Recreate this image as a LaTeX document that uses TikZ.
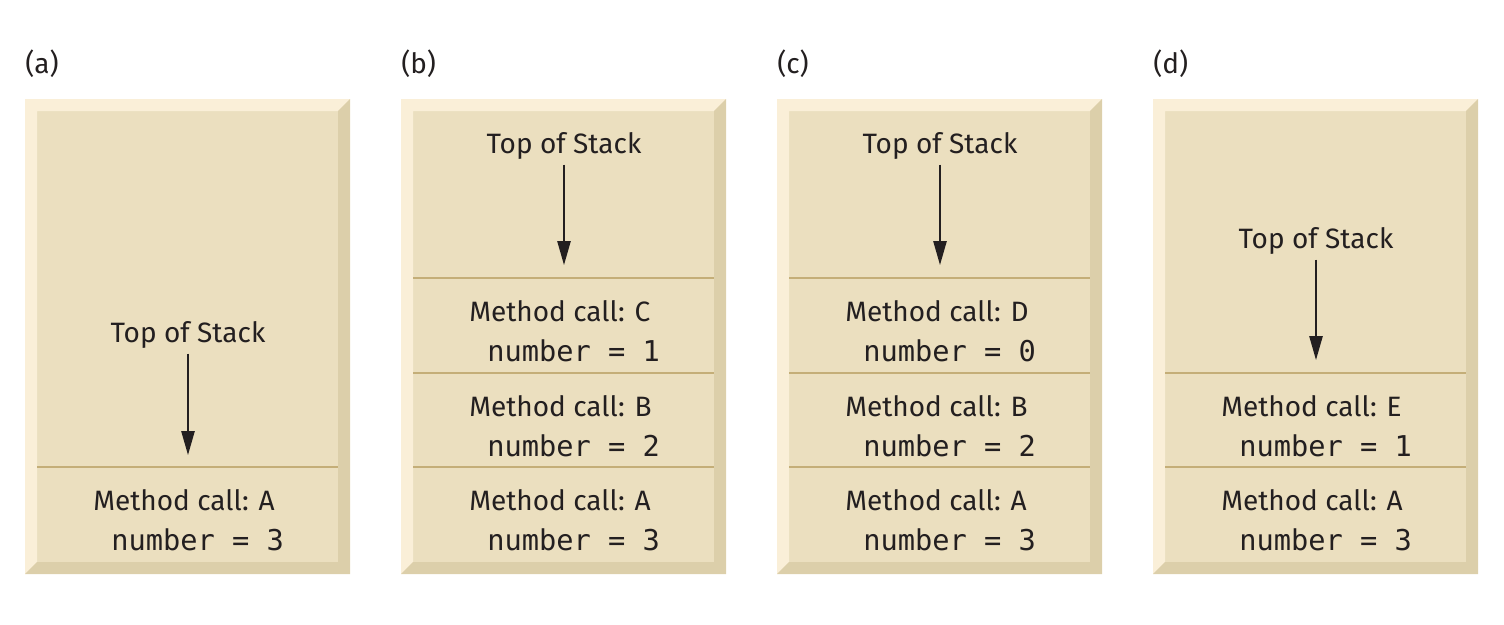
\documentclass[tikz,border=0pt]{standalone}
\usepackage{fontspec}
\setmainfont{Fira Sans}
\setmonofont{DejaVu Sans Mono}
\usetikzlibrary{arrows.meta}
\definecolor{face}{RGB}{235,223,191}
\definecolor{lite}{RGB}{250,239,216}
\definecolor{dark}{RGB}{220,207,170}
\definecolor{rule}{RGB}{196,174,120}
\definecolor{ink}{RGB}{35,31,32}
\def\stackbox(#1){
	\fill[face] (#1,99) rectangle (#1+325,574);
	\fill[lite] (#1,99) -- (#1+325,99) -- (#1+313,111) -- (#1+12,111) -- (#1+12,562) -- (#1,574) -- cycle;
	\fill[dark] (#1+325,99) -- (#1+325,574) -- (#1,574) -- (#1+12,562) -- (#1+313,562) -- (#1+313,111) -- cycle;
}
\def\rowline(#1,#2){\draw[sep] (#1+12,#2) -- (#1+313,#2);}
\tikzset{
	tag/.style={anchor=base west, inner sep=0pt, text=ink, font=\fontsize{21}{21}\selectfont},
	call/.style={anchor=base west, inner sep=0pt, text=ink, font=\fontsize{21}{21}\selectfont},
	num/.style={anchor=base west, inner sep=0pt, text=ink, font=\ttfamily\fontsize{21.5}{22}\selectfont},
	tos/.style={anchor=base, inner sep=0pt, text=ink, font=\fontsize{21}{21}\selectfont},
	sep/.style={line width=2pt, draw=rule},
	ptr/.style={draw=ink, line width=1.2pt, shorten <=4pt, -{Triangle[length=18pt,width=10pt]}}
}
\begin{document}
\begin{tikzpicture}[x=0.75pt,y=-0.75pt]
	\useasboundingbox (0,0) rectangle (1504,625);
	%%%%% panels %%%%%
	\foreach \x/\l in {25/a,401/b,777/c,1153/d}{
		\stackbox(\x)
		\node[tag] (lbl\l) at (\x,73) {(\l)};
	}
	
	%% (a)
	\rowline(25,467)
	\node[tos] (tosa) at (188,342) {Top of Stack};
	\coordinate (hda) at (188,455);
	\draw[ptr] (tosa) -- (hda);
	\node[call] (ma1) at (93,510) {Method call: A};
	\node[num] (na1) at (111,550) {number = 3};
	
	%% (b)
	\rowline(401,278)
	\rowline(401,373)
	\rowline(401,467)
	\node[tos] (tosb) at (564,153) {Top of Stack};
	\coordinate (hdb) at (564,265);
	\draw[ptr] (tosb) -- (hdb);
	\node[call] (mb1) at (469,321) {Method call: C};
	\node[num] (nb1) at (487,361) {number = 1};
	\node[call] (mb2) at (469,416) {Method call: B};
	\node[num] (nb2) at (487,456) {number = 2};
	\node[call] (mb3) at (469,510) {Method call: A};
	\node[num] (nb3) at (487,550) {number = 3};
	
	%% (c)
	\rowline(777,278)
	\rowline(777,373)
	\rowline(777,467)
	\node[tos] (tosc) at (940,153) {Top of Stack};
	\coordinate (hdc) at (940,265);
	\draw[ptr] (tosc) -- (hdc);
	\node[call] (mc1) at (845,321) {Method call: D};
	\node[num] (nc1) at (863,361) {number = 0};
	\node[call] (mc2) at (845,416) {Method call: B};
	\node[num] (nc2) at (863,456) {number = 2};
	\node[call] (mc3) at (845,510) {Method call: A};
	\node[num] (nc3) at (863,550) {number = 3};
	
	%% (d)
	\rowline(1153,373)
	\rowline(1153,467)
	\node[tos] (tosd) at (1316,248) {Top of Stack};
	\coordinate (hdd) at (1316,360);
	\draw[ptr] (tosd) -- (hdd);
	\node[call] (md1) at (1221,416) {Method call: E};
	\node[num] (nd1) at (1239,456) {number = 1};
	\node[call] (md2) at (1221,510) {Method call: A};
	\node[num] (nd2) at (1239,550) {number = 3};
\end{tikzpicture}
\end{document}
